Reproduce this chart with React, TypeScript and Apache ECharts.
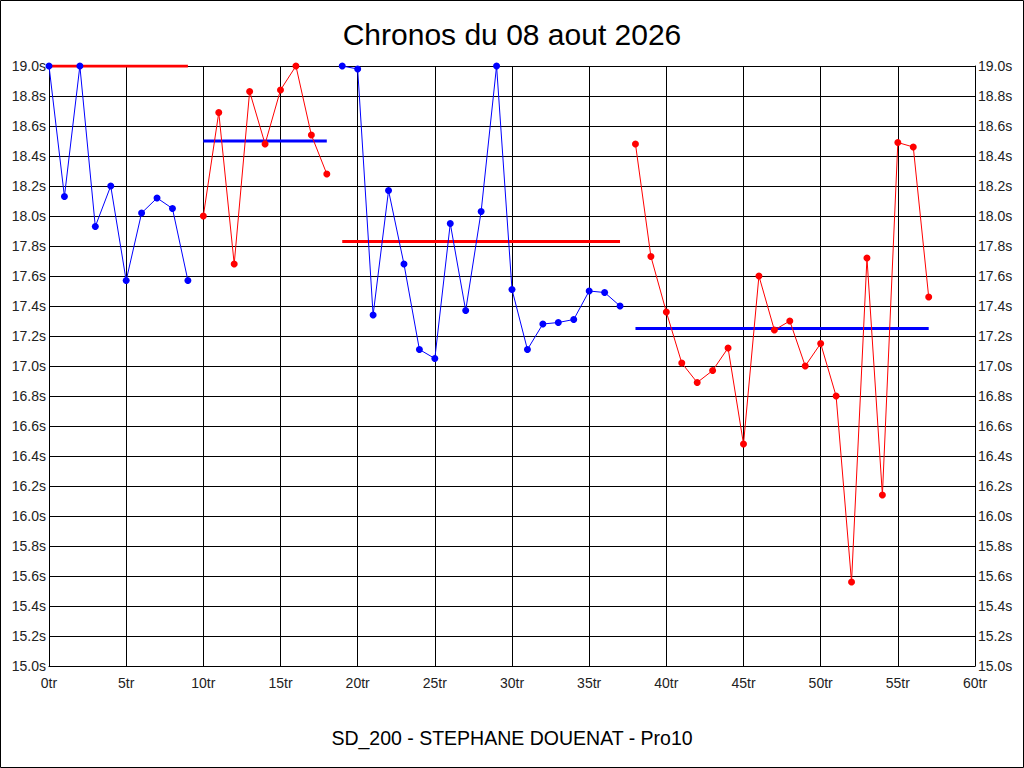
import React, { useEffect, useRef } from "react";
import * as echarts from "echarts";

// Lap numbers where each run segment starts
const segmentStarts = [0, 10, 19, 38];
// Lap times per segment (seconds)
const segBlue1 = [19.0, 18.13, 19.0, 17.93, 18.2, 17.57, 18.02, 18.12, 18.05, 17.57];
const segRed1 = [18.0, 18.69, 17.68, 18.83, 18.48, 18.84, 19.0, 18.54, 18.28];
const segBlue2 = [19.0, 18.98, 17.34, 18.17, 17.68, 17.11, 17.05, 17.95, 17.37, 18.03, 19.0, 17.51, 17.11, 17.28, 17.29, 17.31, 17.5, 17.49, 17.4];
const segRed2 = [18.48, 17.73, 17.36, 17.02, 16.89, 16.97, 17.12, 16.48, 17.6, 17.24, 17.3, 17.0, 17.15, 16.8, 15.56, 17.72, 16.14, 18.49, 18.46, 17.46];
const segments = [segBlue1, segRed1, segBlue2, segRed2];
const segmentColors = ["#0000ff", "#ff0000", "#0000ff", "#ff0000"];
// Reference (mean) lines drawn over each segment
const meanValues = [19.0, 18.5, 17.83, 17.25];
const meanColors = ["#ff0000", "#0000ff", "#ff0000", "#0000ff"];

const titleText = "Chronos du 08 aout 2026";
const footerText = "SD_200 - STEPHANE DOUENAT - Pro10";
const xUnit = "tr";
const yUnit = "s";

const FONT = "'Liberation Sans', Arial, sans-serif";

export default function App() {
  const ref = useRef<HTMLDivElement>(null);
  useEffect(() => {
    document.body.style.margin = "0";
    if (!ref.current) return;
    const chart = echarts.init(ref.current, null, { renderer: "svg" });

    const series: any[] = [];
    segments.forEach((seg, i) => {
      const start = segmentStarts[i];
      series.push({
        type: "line",
        data: seg.map((v, k) => [start + k, v]),
        symbol: "circle",
        symbolSize: 7,
        lineStyle: { color: segmentColors[i], width: 1 },
        itemStyle: { color: segmentColors[i] },
        z: 3,
      });
    });
    segments.forEach((seg, i) => {
      const start = segmentStarts[i];
      series.push({
        type: "line",
        data: [
          [start, meanValues[i]],
          [start + seg.length - 1, meanValues[i]],
        ],
        symbol: "none",
        lineStyle: { color: meanColors[i], width: 3 },
        z: 2,
      });
    });

    const yCommon = {
      type: "value",
      min: 15,
      max: 19,
      interval: 0.2,
      axisLine: { show: true, lineStyle: { color: "#000", width: 1 } },
      axisTick: { show: false },
      axisLabel: {
        formatter: (v: number) => v.toFixed(1) + yUnit,
        fontSize: 14,
        fontFamily: FONT,
        color: "#222",
        margin: 3,
      },
    };

    chart.setOption({
      animation: false,
      backgroundColor: "#fff",
      title: [
        {
          text: titleText,
          left: "center",
          top: 14,
          textStyle: { fontSize: 30, fontWeight: "normal", fontFamily: FONT, color: "#000" },
        },
        {
          text: footerText,
          left: "center",
          top: 723,
          textStyle: { fontSize: 19.5, fontWeight: "normal", fontFamily: FONT, color: "#000" },
        },
      ],
      grid: { left: 49, right: 49, top: 66, bottom: 102, containLabel: false },
      xAxis: {
        type: "value",
        min: 0,
        max: 60,
        interval: 5,
        axisLine: { show: true, onZero: false, lineStyle: { color: "#000", width: 1 } },
        axisTick: { show: false },
        splitLine: { show: true, lineStyle: { color: "#000", width: 1 } },
        axisLabel: {
          formatter: (v: number) => v + xUnit,
          fontSize: 14,
          fontFamily: FONT,
          color: "#222",
          margin: 10,
        },
      },
      yAxis: [
        { ...yCommon, position: "left", splitLine: { show: true, lineStyle: { color: "#000", width: 1 } } },
        { ...yCommon, position: "right", splitLine: { show: false } },
      ],
      series,
      graphic: [
        {
          type: "rect",
          shape: { x: 0.5, y: 0.5, width: 1023, height: 767 },
          style: { fill: "none", stroke: "#000", lineWidth: 1 },
          silent: true,
        },
      ],
    });
    return () => chart.dispose();
  }, []);
  return <div ref={ref} style={{ width: 1024, height: 768 }} />;
}
